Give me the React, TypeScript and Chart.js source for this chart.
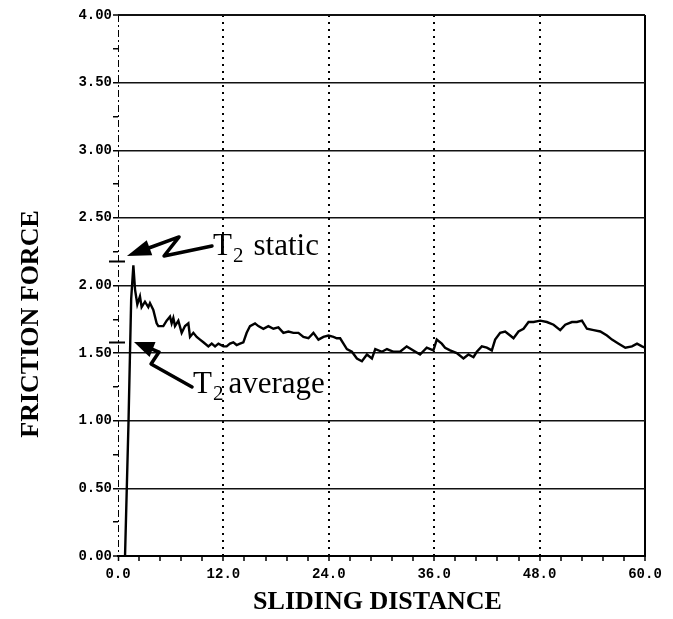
import React, { useEffect, useRef } from 'react';
import { Chart, registerables } from 'chart.js';

Chart.register(...registerables);

// Sliding distance (x) and friction force (y)
const distance = [
  0.8, 1.2, 1.5, 1.75, 1.94, 2.2, 2.5, 2.69, 3.07, 3.45, 3.64, 4.02, 4.4, 4.59, 5.16, 5.54, 5.92, 6.11, 6.3, 6.49,
  6.87, 7.25, 7.63, 8.01, 8.2, 8.58, 8.96, 9.34, 9.72, 10.29, 10.67, 11.05, 11.43, 12.0, 12.37, 12.75, 13.13, 13.51,
  13.89, 14.27, 14.65, 15.03, 15.6, 15.98, 16.55, 17.12, 17.69, 18.26, 18.83, 19.4, 19.97, 20.54, 21.11, 21.68,
  22.25, 22.82, 23.39, 23.96, 24.53, 24.91, 25.29, 25.67, 26.06, 26.63, 27.2, 27.77, 28.34, 28.91, 29.29, 30.05,
  30.62, 31.38, 32.11, 32.87, 33.63, 34.39, 35.15, 35.91, 36.29, 36.86, 37.24, 37.81, 38.57, 39.33, 39.9, 40.47,
  40.85, 41.42, 41.99, 42.56, 42.94, 43.51, 44.08, 44.65, 45.03, 45.6, 46.17, 46.74, 47.31, 48.07, 48.83, 49.59,
  50.35, 50.92, 51.68, 52.25, 52.82, 53.39, 54.15, 54.91, 55.67, 56.24, 57.0, 57.76, 58.52, 59.09, 59.66, 60.0,
];
const force = [
  0.0, 1.0, 1.9, 2.15, 1.97, 1.86, 1.92, 1.84, 1.88, 1.84, 1.87, 1.82, 1.72, 1.7, 1.7, 1.74, 1.77, 1.72, 1.76, 1.7,
  1.74, 1.65, 1.7, 1.72, 1.62, 1.65, 1.62, 1.6, 1.58, 1.55, 1.57, 1.55, 1.57, 1.55, 1.55, 1.57, 1.58, 1.56,
  1.57, 1.58, 1.65, 1.7, 1.72, 1.7, 1.68, 1.7, 1.68, 1.69, 1.65, 1.66, 1.65, 1.65, 1.62, 1.61,
  1.65, 1.6, 1.62, 1.63, 1.62, 1.61, 1.61, 1.57, 1.53, 1.51, 1.46, 1.44, 1.49, 1.46, 1.53, 1.51,
  1.53, 1.51, 1.51, 1.55, 1.52, 1.49, 1.54, 1.52, 1.6, 1.57, 1.54, 1.52, 1.5, 1.46, 1.49, 1.47,
  1.51, 1.55, 1.54, 1.52, 1.6, 1.65, 1.66, 1.63, 1.61, 1.66, 1.68, 1.73, 1.73, 1.74, 1.73, 1.71,
  1.67, 1.71, 1.73, 1.73, 1.74, 1.68, 1.67, 1.66, 1.63, 1.6, 1.57, 1.54, 1.55, 1.57, 1.55, 1.54,
];

const xTickValues = [0, 2.4, 4.8, 7.2, 9.6, 12, 14.4, 16.8, 19.2, 21.6, 24, 26.4, 28.8, 31.2, 33.6, 36, 38.4, 40.8, 43.2, 45.6, 48, 50.4, 52.8, 55.2, 57.6, 60];
const xMajorTicks = [0, 12, 24, 36, 48, 60];
const yTickValues = [0, 0.25, 0.5, 0.75, 1, 1.25, 1.5, 1.75, 2, 2.25, 2.5, 2.75, 3, 3.25, 3.5, 3.75, 4];
const yMajorTicks = [0, 0.5, 1, 1.5, 2, 2.5, 3, 3.5, 4];

const xTitle = 'SLIDING DISTANCE';
const yTitle = 'FRICTION FORCE';

// T2 static / T2 average marks on the force axis
const markerValues = [2.18, 1.58];
const staticLabel = { x: 10.82, y: 2.226, word: 'static' };
const averageLabel = { x: 8.54, y: 1.205, word: 'average' };
const staticArrowX = [10.7, 5.24, 6.95, 1.02];
const staticArrowY = [2.292, 2.218, 2.359, 2.218];
const averageArrowX = [8.43, 3.76, 4.67, 1.82];
const averageArrowY = [1.25, 1.42, 1.508, 1.582];

const isMajor = (list: number[], v: number) => list.some((m) => Math.abs(m - v) < 1e-6);

function drawArrow(ctx: CanvasRenderingContext2D, pts: number[][], headLen: number, headHalf: number) {
  const n = pts.length;
  const [tx, ty] = pts[n - 1];
  const [px, py] = pts[n - 2];
  const dx = tx - px;
  const dy = ty - py;
  const len = Math.hypot(dx, dy);
  const ux = dx / len;
  const uy = dy / len;
  const bx = tx - ux * headLen;
  const by = ty - uy * headLen;
  ctx.beginPath();
  ctx.moveTo(pts[0][0], pts[0][1]);
  for (let i = 1; i < n - 1; i++) ctx.lineTo(pts[i][0], pts[i][1]);
  ctx.lineTo(bx, by);
  ctx.lineWidth = 3.5;
  ctx.lineJoin = 'round';
  ctx.lineCap = 'round';
  ctx.strokeStyle = '#000';
  ctx.stroke();
  ctx.beginPath();
  ctx.moveTo(tx, ty);
  ctx.lineTo(bx - uy * headHalf, by + ux * headHalf);
  ctx.lineTo(bx + uy * headHalf, by - ux * headHalf);
  ctx.closePath();
  ctx.fillStyle = '#000';
  ctx.fill();
}

function drawT2(ctx: CanvasRenderingContext2D, x: number, y: number, word: string, gap: number) {
  ctx.fillStyle = '#000';
  ctx.textAlign = 'left';
  ctx.textBaseline = 'alphabetic';
  ctx.font = '31px "Liberation Serif"';
  ctx.fillText('T', x, y);
  const tw = ctx.measureText('T').width;
  ctx.font = '21px "Liberation Serif"';
  ctx.fillText('2', x + tw + 1, y + 7);
  const sw = ctx.measureText('2').width;
  ctx.font = '31px "Liberation Serif"';
  ctx.fillText(word, x + tw + 1 + sw + gap, y);
}

const annotationPlugin = {
  id: 'frictionAnnotations',
  afterDraw(chart: any) {
    const { ctx, scales } = chart;
    const xs = scales.x;
    const ys = scales.y;
    ctx.save();
    // axis marks
    ctx.strokeStyle = '#000';
    ctx.lineWidth = 2;
    const x0 = xs.getPixelForValue(0);
    markerValues.forEach((v) => {
      const py = Math.round(ys.getPixelForValue(v)) + 0.5;
      ctx.beginPath();
      ctx.moveTo(x0 - 9, py);
      ctx.lineTo(x0 + 7, py);
      ctx.stroke();
    });
    drawArrow(ctx, staticArrowX.map((v, i) => [xs.getPixelForValue(v), ys.getPixelForValue(staticArrowY[i])]), 24, 8);
    drawArrow(ctx, averageArrowX.map((v, i) => [xs.getPixelForValue(v), ys.getPixelForValue(averageArrowY[i])]), 20, 8);
    drawT2(ctx, xs.getPixelForValue(staticLabel.x), ys.getPixelForValue(staticLabel.y), staticLabel.word, 10);
    drawT2(ctx, xs.getPixelForValue(averageLabel.x), ys.getPixelForValue(averageLabel.y), averageLabel.word, 5);

    // axis titles
    ctx.font = 'bold 26px "Liberation Serif"';
    ctx.fillStyle = '#000';
    ctx.textAlign = 'center';
    ctx.textBaseline = 'middle';
    ctx.fillText(xTitle, (xs.left + xs.right) / 2 - 4, 602);
    ctx.translate(31, 324);
    ctx.rotate(-Math.PI / 2);
    ctx.fillText(yTitle, 0, 0);
    ctx.restore();
  },
};

export default function App() {
  const canvasRef = useRef<HTMLCanvasElement | null>(null);

  useEffect(() => {
    const canvas = canvasRef.current;
    if (!canvas) return;
    const chart = new Chart(canvas, {
      type: 'line',
      data: {
        datasets: [
          {
            data: distance.map((d, i) => ({ x: d, y: force[i] })),
            borderColor: '#000',
            borderWidth: 2.4,
            pointRadius: 0,
            tension: 0,
            fill: false,
          },
        ],
      },
      options: {
        animation: false,
        responsive: false,
        devicePixelRatio: 1,
        layout: { padding: { top: 15, right: 28, left: 0, bottom: 0 } },
        plugins: { legend: { display: false }, tooltip: { enabled: false } },
        scales: {
          x: {
            type: 'linear',
            min: 0,
            max: 60,
            afterBuildTicks: (scale: any) => {
              scale.ticks = xTickValues.map((v) => ({ value: v }));
            },
            afterFit: (scale: any) => {
              scale.height = 63;
            },
            ticks: {
              autoSkip: false,
              maxRotation: 0,
              padding: 5,
              color: '#000',
              font: { family: '"Liberation Mono"', size: 14, weight: 'bold' },
              callback: (v: any) => (isMajor(xMajorTicks, Number(v)) ? Number(v).toFixed(1) : ''),
            },
            grid: {
              color: (c: any) => (c.tick && isMajor(xMajorTicks, c.tick.value) ? '#000' : 'rgba(0,0,0,0)'),
              lineWidth: (c: any) => (c.tick && c.tick.value === 0 ? 1 : 2),
              tickColor: '#000',
              tickLength: 5,
              tickWidth: 1.5,
            },
            border: {
              display: true,
              color: '#000',
              width: 2,
              dash: (c: any) => {
                const v = c.tick ? c.tick.value : -1;
                if (v === 0) return [7, 3, 2, 3];
                if (v === 60) return [];
                return [2, 5];
              },
            },
          },
          y: {
            type: 'linear',
            min: 0,
            max: 4,
            afterBuildTicks: (scale: any) => {
              scale.ticks = yTickValues.map((v) => ({ value: v }));
            },
            afterFit: (scale: any) => {
              scale.width = 118;
            },
            ticks: {
              autoSkip: false,
              padding: 1,
              color: '#000',
              font: { family: '"Liberation Mono"', size: 14, weight: 'bold' },
              callback: (v: any) => (isMajor(yMajorTicks, Number(v)) ? Number(v).toFixed(2) : ''),
            },
            grid: {
              color: (c: any) => (c.tick && isMajor(yMajorTicks, c.tick.value) ? '#111' : 'rgba(0,0,0,0)'),
              lineWidth: (c: any) => (c.tick && (c.tick.value === 0 || c.tick.value === 4) ? 2 : 1.5),
              tickColor: '#000',
              tickLength: 5,
              tickWidth: 1.5,
            },
            border: { display: false },
          },
        },
      },
      plugins: [annotationPlugin],
    } as any);
    return () => chart.destroy();
  }, []);

  return (
    <div style={{ position: 'absolute', left: 0, top: 0, width: 673, height: 619, background: '#fff' }}>
      <canvas ref={canvasRef} width={673} height={619} style={{ display: 'block' }} />
    </div>
  );
}
